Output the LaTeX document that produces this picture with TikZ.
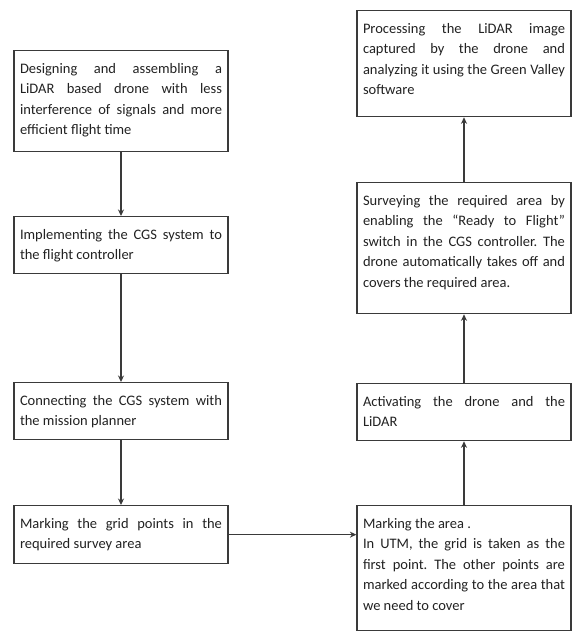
\documentclass[tikz,border=0pt]{standalone}
\usepackage{fontspec}
\setmainfont{Carlito}
\usetikzlibrary{arrows.meta}
\frenchspacing
\definecolor{linec}{HTML}{3A3A3A}
\definecolor{txtc}{HTML}{222222}
\newcommand\jline[1]{\hbox to \hsize{\strut#1}}
\newcommand\lline[1]{\hbox to \hsize{\strut#1\hfil}}
\newcommand\boxtxt[2]{\parbox[c][#1][t]{202pt}{#2}}
\tikzset{
  box/.style={draw=linec, line width=1.3pt, fill=white, text=txtc,
    inner xsep=6pt, inner ysep=8pt, anchor=north,
    font=\fontsize{14.5}{20.5}\selectfont\frenchspacing},
  arr/.style={draw=linec, line width=1.1pt, -{Stealth[length=6.5pt,width=6pt]}}
}
\begin{document}
\begin{tikzpicture}[x=1pt,y=-1pt]
\useasboundingbox[fill=white] (0,0) rectangle (574,633);
% left column
\node[box] (l1) at (121,50) {\boxtxt{85pt}{%
  \jline{Designing and assembling a}
  \jline{LiDAR based drone with less}
  \jline{interference of signals and more}
  \lline{efficient flight time}}};
\node[box] (l2) at (121,216) {\boxtxt{41pt}{%
  \jline{Implementing the CGS system to}
  \lline{the flight controller}}};
\node[box] (l3) at (121,382) {\boxtxt{41pt}{%
  \jline{Connecting the CGS system with}
  \lline{the mission planner}}};
\node[box] (l4) at (121,505) {\boxtxt{42pt}{%
  \jline{Marking the grid points in the}
  \lline{required survey area}}};
% right column
\node[box] (r1) at (464,10) {\boxtxt{90pt}{%
  \jline{Processing the LiDAR image}
  \jline{captured by the drone and}
  \jline{analyzing it using the Green Valley}
  \lline{software}}};
\node[box] (r2) at (464,182) {\boxtxt{115pt}{%
  \jline{Surveying the required area by}
  \jline{enabling the “Ready to Flight”}
  \jline{switch in the CGS controller. The}
  \jline{drone automatically takes off and}
  \lline{covers the required area.}}};
\node[box] (r3) at (464,383) {\boxtxt{41pt}{%
  \jline{Activating the drone and the}
  \lline{LiDAR}}};
\node[box] (r4) at (464,505) {\boxtxt{109pt}{%
  \lline{Marking the area .}
  \jline{In UTM, the grid is taken as the}
  \jline{first point. The other points are}
  \jline{marked according to the area that}
  \lline{we need to cover}}};
% connectors
\draw[arr] (l1) -- (l2);
\draw[arr] (l2) -- (l3);
\draw[arr] (l3) -- (l4);
\draw[arr] (l4.east) -- (l4.east -| r4.west);
\draw[arr] (r4) -- (r3);
\draw[arr] (r3) -- (r2);
\draw[arr] (r2) -- (r1);
\end{tikzpicture}
\end{document}
